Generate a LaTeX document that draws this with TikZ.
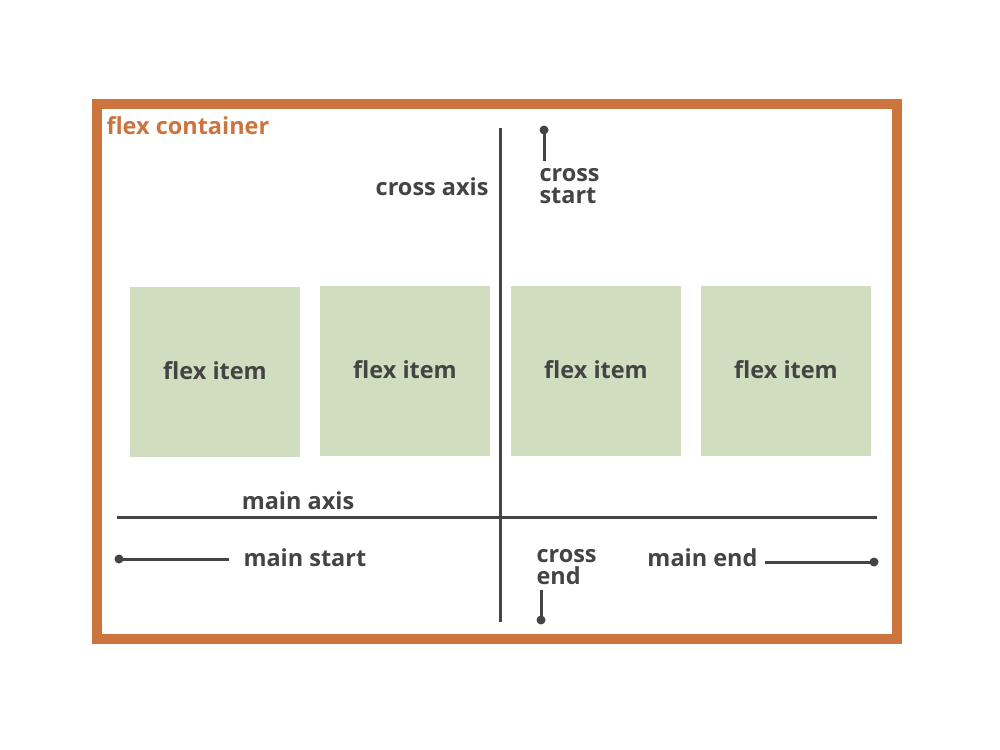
\documentclass[tikz,border=0pt]{standalone}
\usepackage{fontspec}
\setmainfont{Open Sans}[BoldFont={* Bold}]
\definecolor{boxorange}{RGB}{204,116,62}
\definecolor{itemgreen}{RGB}{208,221,190}
\definecolor{inkgray}{RGB}{68,68,68}
\tikzset{every picture/.style={line width=0.75pt}}
\tikzset{
  lbl/.style={inner sep=0.75pt,text=inkgray,font=\bfseries\fontsize{17.6}{16.5}\selectfont,align=left},
  itembox/.style={fill=itemgreen,minimum width=127.5pt,minimum height=127.5pt,inner sep=0pt,text=inkgray,font=\bfseries\fontsize{17.6}{18}\selectfont},
  axisline/.style={draw=inkgray,line width=2.25pt},
  tickline/.style={draw=inkgray,line width=2.25pt},
  enddot/.style={fill=inkgray}
}

\begin{document}
\begin{tikzpicture}[x=0.75pt,y=0.75pt,yscale=-1,xscale=1]
\useasboundingbox (0,0) rectangle (1000,750);

%Shape: Rectangle [container]
\draw [draw=boxorange,line width=7.5pt] (97,104) rectangle (897,639);

% Text Node
\node (fc) at (105,126) [anchor=west,inner sep=0.75pt,text=boxorange,font=\bfseries\fontsize{17.6}{16}\selectfont] {flex container};

%Shape: Flex items
\node (i1) at (215,372) [itembox] {\raisebox{1.5pt}{flex item}};
\node (i2) at (405,371) [itembox] {\raisebox{1.5pt}{flex item}};
\node (i3) at (596,371) [itembox] {\raisebox{1.5pt}{flex item}};
\node (i4) at (786,371) [itembox] {\raisebox{1.5pt}{flex item}};

%Axes
\coordinate (ctop) at (500,128);
\coordinate (cbot) at (500,622);
\coordinate (mleft) at (117,517);
\coordinate (mright) at (877,517);
\draw [axisline] (ctop) -- (cbot);
\draw [axisline] (mleft) -- (mright);

% Text Node
\node (ca) at (490,187) [anchor=east,lbl] {cross axis};
% Text Node
\node (ma) at (298,501) [lbl] {main axis};

%cross start
\coordinate (cs0) at (544,130);
\coordinate (cs1) at (544,161);
\draw [tickline] (cs0) -- (cs1);
\fill [enddot] (cs0) circle (4.5);
\node (cs) at (538,186) [anchor=west,lbl] {cross\\start};

%cross end
\coordinate (ce0) at (541,620);
\coordinate (ce1) at (541,590);
\draw [tickline] (ce1) -- (ce0);
\fill [enddot] (ce0) circle (4.5);
\node (ce) at (535,567) [anchor=west,lbl] {cross\\end};

%main start
\coordinate (ms0) at (119,559);
\coordinate (ms1) at (229,559);
\draw [tickline] (ms0) -- (ms1);
\fill [enddot] (ms0) circle (4.5);
\node (ms) at (242,558) [anchor=west,lbl] {main start};

%main end
\coordinate (me0) at (874,562);
\coordinate (me1) at (765,562);
\draw [tickline] (me1) -- (me0);
\fill [enddot] (me0) circle (4.5);
\node (me) at (759,558) [anchor=east,lbl] {main end};

\end{tikzpicture}
\end{document}
